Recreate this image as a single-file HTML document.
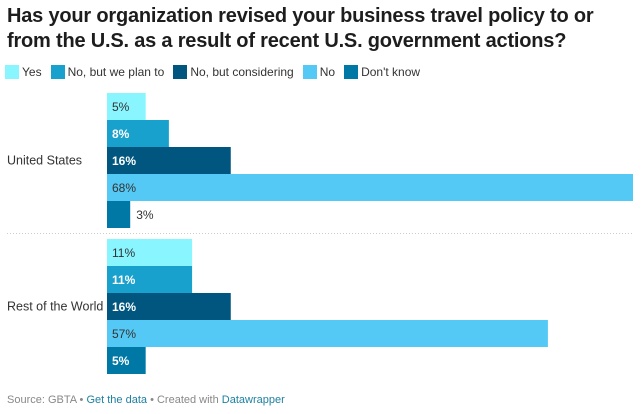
<!DOCTYPE html>
<html><head><meta charset="utf-8"><style>
body{margin:0;width:641px;height:414px;background:#fff;font-family:"Liberation Sans",sans-serif;overflow:hidden;position:relative}
h1{position:absolute;left:7px;top:4px;margin:0;font-size:20px;line-height:25px;font-weight:bold;color:#1d1d1d;letter-spacing:-0.2px}
.leg{position:absolute;top:65px;left:5px;font-size:12px;color:#333;display:flex;gap:9px}
.leg span{display:inline-flex;align-items:center}
.leg i{display:inline-block;width:14px;height:14px;margin-right:3px}
.foot{position:absolute;left:7px;top:394px;font-size:11px;color:#888}
.foot a{color:#1d81a2;text-decoration:none}
</style></head><body>
<h1>Has your organization revised your business travel policy to or from the U.S. as a result of recent U.S. government actions?</h1>
<div class="leg" id="leg"></div>
<svg id="c" width="641" height="414" style="position:absolute;left:0;top:0"></svg>
<div class="foot">Source: GBTA • <a>Get the data</a> • Created with <a>Datawrapper</a></div>
<script>
const groups=["United States","Rest of the World"];
const series=["Yes","No, but we plan to","No, but considering","No","Don't know"];
const usValues=[5,8,16,68,3];
const rowValues=[11,11,16,57,5];
const colors=["#88f5ff","#18a1cd","#00567e","#55c9f5","#0078a6"];
const darkText=[true,false,false,true,false];
const values=[usValues,rowValues];
const NS="http://www.w3.org/2000/svg";
const svg=document.getElementById('c');
const x0=107,pxPer=526/68,bh=27;
const x=v=>v*pxPer;
const gTop=[93,239];
const leg=document.getElementById('leg');
series.forEach((s,i)=>{const sp=document.createElement('span');


sp.innerHTML='<i style="background:'+colors[i]+'"></i>'+s;leg.appendChild(sp);});
function el(t,a){const e=document.createElementNS(NS,t);for(const k in a)e.setAttribute(k,a[k]);svg.appendChild(e);return e;}
groups.forEach((g,gi)=>{
 const t=el('text',{x:7,y:gTop[gi]+2.5*bh+4,'font-size':12.5,fill:'#333'});t.textContent=g;
 
 
 values[gi].forEach((v,si)=>{
  const y=gTop[gi]+si*bh,w=x(v);
  const r=el('rect',{x:x0,y:y,width:w,height:bh,fill:colors[si]});
  
  
  const inside=w>30;
  const lt=el('text',{x:inside?x0+5:x0+w+6,y:y+bh/2+4.5,'font-size':12,fill:inside?(darkText[si]?'#333':'#fff'):'#333','font-weight':(inside&&!darkText[si])?'bold':'normal'});
  lt.textContent=v+'%';
  
  
 });
});
const d=el('line',{x1:7,x2:634,y1:233.5,y2:233.5,stroke:'#ccc','stroke-dasharray':'1,2'});


</script>
</body></html>
